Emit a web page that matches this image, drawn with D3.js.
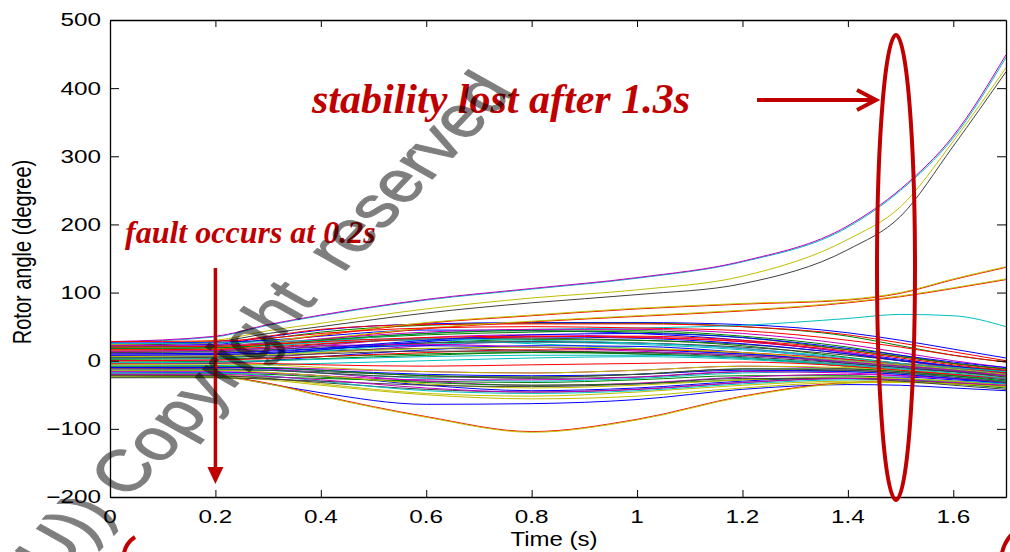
<!DOCTYPE html>
<html>
<head>
<meta charset="utf-8">
<script src="https://cdn.jsdelivr.net/npm/d3@7"></script>
<style>
  html, body { margin: 0; padding: 0; background: #fff; }
  svg { display: block; }
  .sans { font-family: "Liberation Sans", Arial, sans-serif; }
  .serif { font-family: "Liberation Serif", "Times New Roman", serif; font-weight: bold; font-style: italic; }
</style>
</head>
<body>
<svg id="chart" width="1010" height="552"></svg>
<script>
// ---------- data ----------
const time = [0, 0.2, 0.3, 0.4, 0.6, 0.8, 1.0, 1.2, 1.4, 1.5, 1.6, 1.7];
const xTicks = [0, 0.2, 0.4, 0.6, 0.8, 1, 1.2, 1.4, 1.6];
const yTicks = [-200, -100, 0, 100, 200, 300, 400, 500];
const angles = [
  [22, 24, 35, 45, 54, 56, 56, 53, 41, 30, 17, 4],
  [20, 22, 32, 42, 52, 55, 55, 50, 36, 22, 8, -2],
  [24, 26, 36, 46, 53, 54, 54, 50, 38, 26, 13, 0],
  [27, 35, 52, 66, 89, 105, 121, 145, 196, 250, 327, 445],
  [28, 36, 53, 67, 90, 106, 122, 146, 198, 252, 330, 449],
  [24, 30, 44, 55, 76, 92, 104, 124, 178, 226, 322, 430],
  [22, 28, 40, 50, 70, 85, 97, 113, 163, 212, 315, 424],
  [26, 27, 30, 36, 45, 44, 40, 30, 12, 2, -8, -15],
  [20, 21, 25, 30, 38, 42, 44, 36, 20, 8, -4, -12],
  [17, 19, 27, 37, 55, 66, 76, 83, 89, 99, 119, 137],
  [12, 14, 20, 28, 40, 46, 48, 52, 62, 68, 66, 50],
  [10, 11, 15, 22, 34, 38, 35, 28, 12, 0, -10, -18],
  [18, 20, 28, 38, 56, 67, 77, 84, 90, 100, 120, 138],
  [14, 15, 18, 24, 32, 33, 30, 24, 10, 0, -8, -14],
  [-20, -22, -34, -47, -64, -63, -57, -42, -35, -36, -40, -44],
  [5, 6, 10, 16, 26, 31, 30, 22, 5, -4, -12, -20],
  [14, 16, 23, 31, 47, 57, 65, 73, 85, 94, 106, 119],
  [18, 19, 22, 27, 30, 25, 18, 10, -2, -8, -14, -20],
  [0, 1, 5, 11, 22, 28, 26, 18, 2, -6, -14, -22],
  [15, 17, 24, 32, 48, 58, 66, 74, 86, 95, 107, 120],
  [8, 9, 11, 14, 18, 15, 10, 4, -6, -12, -16, -22],
  [-5, -4, 0, 6, 16, 22, 21, 12, -4, -10, -16, -24],
  [2, 3, 4, 6, 10, 12, 10, 4, -8, -14, -20, -26],
  [-21, -23, -33, -51, -82, -104, -86, -52, -32, -30, -33, -37],
  [-8, -7, -6, -4, 0, 4, 6, 2, -8, -14, -20, -28],
  [-12, -11, -10, -12, -16, -18, -14, -8, -12, -16, -20, -26],
  [-22, -24, -34, -52, -83, -105, -87, -53, -33, -31, -34, -38],
  [-15, -14, -14, -16, -22, -26, -24, -16, -14, -18, -22, -28],
  [-18, -17, -18, -22, -36, -44, -40, -30, -24, -24, -28, -32],
  [-24, -23, -24, -26, -30, -32, -28, -22, -22, -26, -30, -34],
  [28, 29, 33, 40, 48, 50, 48, 44, 30, 20, 8, -2],
  [3, 4, 8, 14, 24, 27, 24, 16, 2, -6, -12, -18],
  [-10, -9, -12, -18, -30, -36, -33, -24, -20, -22, -26, -30],
  [-20, -21, -26, -34, -48, -52, -46, -36, -30, -30, -32, -36],
  [12, 13, 16, 20, 26, 28, 26, 20, 8, 0, -8, -16],
  [6, 7, 10, 16, 28, 35, 33, 25, 10, 0, -8, -18],
  [-2, -1, 0, 3, 8, 12, 12, 8, -2, -8, -14, -20],
  [16, 17, 20, 25, 32, 35, 36, 30, 16, 6, -4, -12],
  [-14, -13, -14, -18, -26, -30, -26, -18, -16, -20, -24, -30],
  [22, 23, 26, 32, 42, 46, 46, 40, 24, 12, 0, -10],
  [-6, -5, -6, -10, -16, -18, -14, -8, -10, -14, -18, -24],
  [-22, -22, -26, -32, -42, -46, -42, -32, -26, -28, -32, -38],
  [10, 11, 14, 18, 22, 20, 16, 10, 0, -6, -12, -20],
  [-20, -19, -20, -24, -32, -36, -34, -28, -26, -28, -34, -40],
  [0, 1, 3, 6, 12, 16, 16, 12, 2, -4, -10, -18],
  [25, 26, 28, 30, 32, 30, 26, 18, 4, -4, -10, -16],
  [-16, -16, -18, -22, -28, -28, -24, -16, -18, -22, -26, -32],
  [-24, -24, -28, -36, -50, -56, -52, -40, -32, -32, -34, -38],
  [4, 5, 7, 10, 14, 14, 12, 6, -4, -10, -16, -24],
  [-10, -10, -11, -14, -20, -22, -20, -14, -16, -20, -26, -34],
  [18, 19, 23, 30, 40, 44, 42, 34, 16, 6, -4, -12],
  [-4, -3, -4, -6, -8, -6, -4, -2, -8, -14, -20, -26],
  [-18, -18, -22, -30, -44, -48, -44, -34, -28, -28, -30, -34],
  [14, 15, 18, 22, 24, 20, 14, 8, -2, -8, -14, -22],
  [-14, -14, -17, -22, -34, -40, -36, -28, -24, -26, -30, -36],
  [-25, -25, -27, -30, -36, -38, -34, -26, -26, -30, -36, -42],
  [8, 9, 12, 18, 30, 38, 40, 34, 18, 8, -2, -10],
  [-8, -8, -10, -14, -22, -24, -20, -12, -12, -16, -22, -30],
  [20, 21, 24, 28, 34, 36, 34, 28, 14, 4, -6, -14],
  [-3, -2, 0, 2, 6, 8, 8, 4, -6, -12, -18, -26],
  [-20, -20, -23, -28, -40, -46, -42, -32, -26, -28, -32, -36],
  [6, 7, 9, 12, 18, 20, 18, 12, 0, -6, -12, -20],
  [-12, -12, -14, -18, -24, -24, -20, -12, -14, -18, -24, -32]
];
// MATLAB classic colour order (style, cycled by series index)
const colorOrder = ["#0000ff", "#008000", "#ff0000", "#00bfbf", "#bf00bf", "#bfbf00", "#404040"];

// ---------- layout ----------
const svg = d3.select("#chart");
const L = 110, R = 1006, T = 20, B = 497;
const x = d3.scaleLinear().domain([0, 1.7]).range([L, R]);
const y = d3.scaleLinear().domain([-200, 500]).range([B, T]);
const red = "#c00000";

svg.append("defs").append("clipPath").attr("id", "plotclip")
  .append("rect").attr("x", L).attr("y", T).attr("width", R - L).attr("height", B - T);

// lines
const line = d3.line().x((d, i) => x(time[i])).y(d => y(d)).curve(d3.curveMonotoneX);
svg.append("g").attr("clip-path", "url(#plotclip)")
  .selectAll("path").data(angles).join("path")
  .attr("d", d => line(d))
  .attr("fill", "none")
  .attr("stroke", (d, i) => colorOrder[i % colorOrder.length])
  .attr("stroke-width", 1);

// axes (MATLAB box with inward ticks)
const axB = d3.axisBottom(x).tickValues(xTicks).tickSizeInner(-7).tickSizeOuter(0).tickFormat(() => "");
const axT = d3.axisTop(x).tickValues(xTicks).tickSizeInner(-7).tickSizeOuter(0).tickFormat(() => "");
const axL = d3.axisLeft(y).tickValues(yTicks).tickSizeInner(-9).tickSizeOuter(0).tickFormat(() => "");
const axR = d3.axisRight(y).tickValues(yTicks).tickSizeInner(-9).tickSizeOuter(0).tickFormat(() => "");
[[axB, `translate(0,${B})`], [axT, `translate(0,${T})`], [axL, `translate(${L},0)`], [axR, `translate(${R},0)`]]
  .forEach(([ax, tr]) => {
    const g = svg.append("g").attr("transform", tr).call(ax);
    g.select(".domain").attr("stroke", "#000").attr("stroke-width", 1.3);
    g.selectAll(".tick line").attr("stroke", "#000").attr("stroke-width", 1);
  });

// tick labels (source image is horizontally stretched)
const fmt = d => d3.format("")(d);
svg.append("g").selectAll("g").data(yTicks).join("g")
  .attr("transform", d => `translate(101,${y(d)}) scale(1.35,1)`)
  .append("text").attr("class", "sans").attr("text-anchor", "end").attr("dy", "0.36em")
  .attr("font-size", 18).attr("fill", "#000").text(fmt);
svg.append("g").selectAll("g").data(xTicks).join("g")
  .attr("transform", d => `translate(${x(d)},523) scale(1.35,1)`)
  .append("text").attr("class", "sans").attr("text-anchor", "middle")
  .attr("font-size", 18).attr("fill", "#000").text(fmt);

// axis titles
svg.append("g").attr("transform", "translate(554,546) scale(1.2,1)")
  .append("text").attr("class", "sans").attr("text-anchor", "middle").attr("font-size", 20).attr("fill", "#000").text("Time (s)");
svg.append("g").attr("transform", "translate(31,252) rotate(-90) scale(1,1.25)")
  .append("text").attr("class", "sans").attr("text-anchor", "middle").attr("font-size", 20).attr("fill", "#000").text("Rotor angle (degree)");

// ---------- annotations ----------
const ann = svg.append("g");
ann.append("text").attr("class", "serif").attr("x", 312).attr("y", 113)
  .attr("font-size", 42).attr("fill", red).text("stability lost after 1.3s");
ann.append("text").attr("class", "serif").attr("x", 125).attr("y", 243)
  .attr("font-size", 32).attr("fill", red).text("fault occurs at 0.2s");

// down arrow at fault time
const fx = x(0.2);
ann.append("line").attr("x1", fx).attr("x2", fx).attr("y1", 268).attr("y2", 470)
  .attr("stroke", red).attr("stroke-width", 3.5);
ann.append("path").attr("d", `M${fx - 8},467 L${fx + 8},467 L${fx},484 Z`).attr("fill", red);

// right arrow
ann.append("line").attr("x1", 757).attr("x2", 875).attr("y1", 100).attr("y2", 100)
  .attr("stroke", red).attr("stroke-width", 4);
ann.append("path").attr("d", "M857,90 L876,100 L857,110")
  .attr("fill", "none").attr("stroke", red).attr("stroke-width", 4);

// ellipse
ann.append("ellipse").attr("cx", 896).attr("cy", 267.5).attr("rx", 19).attr("ry", 232.5)
  .attr("fill", "none").attr("stroke", red).attr("stroke-width", 4);

// bottom arcs (cut-off brackets)
ann.append("path").attr("d", "M135,537 Q126,543 124,553")
  .attr("fill", "none").attr("stroke", red).attr("stroke-width", 4);
ann.append("path").attr("d", "M1011,535 Q1004,543 1002,553")
  .attr("fill", "none").attr("stroke", red).attr("stroke-width", 4);

// ---------- watermark (stretched like the source image) ----------
const wm = svg.append("g").attr("transform", "translate(128,500) scale(1.3,1) rotate(-53.9)")
  .attr("class", "sans").attr("opacity", 0.5)
  .attr("fill", "#000").attr("stroke", "#000").attr("stroke-width", 1).attr("stroke-linejoin", "round")
  .attr("font-size", 58);
wm.append("text").attr("x", -16).attr("text-anchor", "end").text("FU))");
wm.append("text").attr("x", 0).attr("xml:space", "preserve").style("white-space", "pre").text("Copyright  reserved");
</script>
</body>
</html>
